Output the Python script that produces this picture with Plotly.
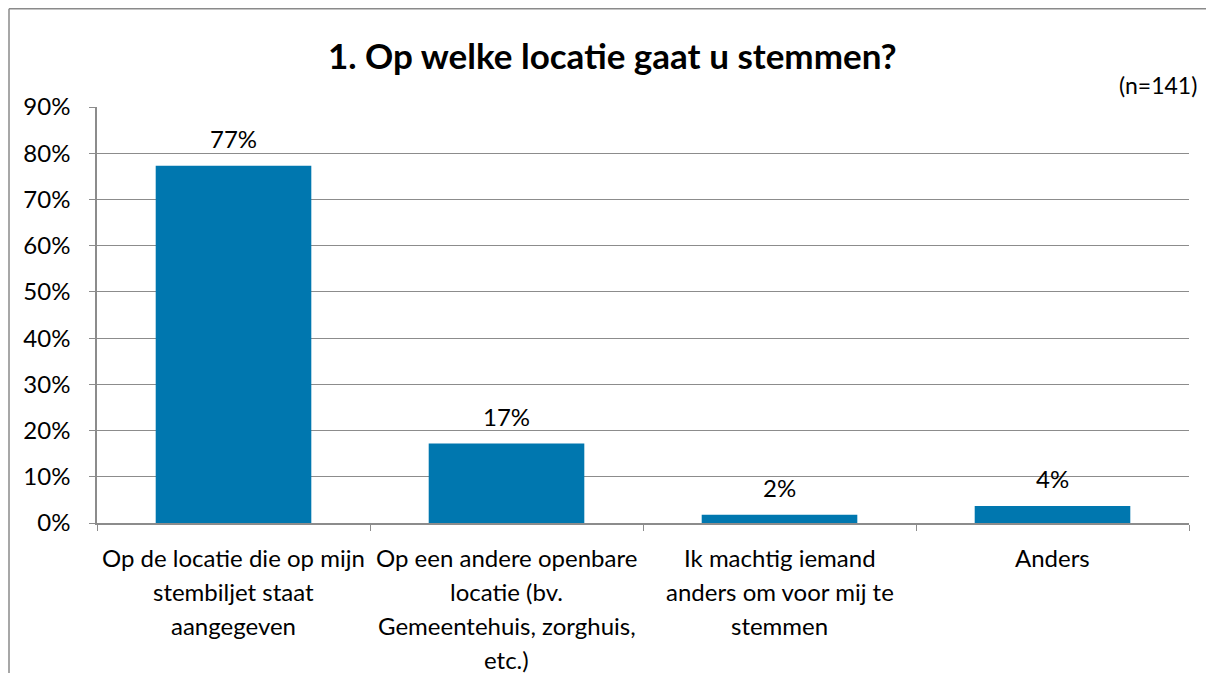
import plotly.graph_objects as go

categories = [
    "Op de locatie die op mijn\nstembiljet staat\naangegeven",
    "Op een andere openbare\nlocatie (bv.\nGemeentehuis, zorghuis,\netc.)",
    "Ik machtig iemand\nanders om voor mij te\nstemmen",
    "Anders",
]
values = [0.773, 0.172, 0.018, 0.037]
labels = ["77%", "17%", "2%", "4%"]
y_ticks = [0, 0.1, 0.2, 0.3, 0.4, 0.5, 0.6, 0.7, 0.8, 0.9]
y_ticklabels = ["0%", "10%", "20%", "30%", "40%", "50%", "60%", "70%", "80%", "90%"]
title = "1. Op welke locatie gaat u stemmen?"
note = "(n=141)"

FONT = "Lato"
OFF = 8  # default page body margin
W, H = 1214 - 2 * OFF, 681 - 2 * OFF
L, R, T, B = 97 - OFF, 1189 - OFF, 107 - OFF, 523 - OFF
pw, ph = R - L, B - T


def px(xpage):
    return (xpage - OFF - L) / pw


def py(ypage):
    return (B - (ypage - OFF)) / ph


cat_keys = [c.replace("\n", " ") for c in categories]

fig = go.Figure(go.Bar(
    x=cat_keys, y=values,
    marker=dict(color="#0077AF", line=dict(width=0)),
    cliponaxis=False, width=0.57, hoverinfo="skip",
))

annotations = []
for key, v, lab in zip(cat_keys, values, labels):
    annotations.append(dict(
        x=key, xref="x", y=v, yref="y", yshift=27,
        text=lab, showarrow=False, xanchor="center", yanchor="middle",
        font=dict(family=FONT, size=24, color="#000"),
    ))

for key, cat in zip(cat_keys, categories):
    for j, line in enumerate(cat.split("\n")):
        ypage = 557 + j * 34.3
        annotations.append(dict(
            x=key, xref="x", y=py(ypage), yref="paper",
            text=line, showarrow=False, xanchor="center", yanchor="middle",
            font=dict(family=FONT, size=24, color="#000"),
        ))

annotations.append(dict(
    x=px(612), xref="paper", y=py(55), yref="paper",
    text="<b>" + title + "</b>", showarrow=False, xanchor="center", yanchor="middle",
    font=dict(family=FONT, size=35, color="#000"),
))
annotations.append(dict(
    x=px(1199), xref="paper", y=py(85), yref="paper",
    text=note, showarrow=False, xanchor="right", yanchor="middle",
    font=dict(family=FONT, size=23, color="#000"),
))

border = dict(color="#8a8a8a", width=1.5)
top_y = (B - 0.75) / ph
fig.update_layout(
    width=W, height=H,
    margin=dict(l=L, r=W - R, t=T, b=H - B, pad=0),
    paper_bgcolor="white", plot_bgcolor="white",
    showlegend=False,
    annotations=annotations,
    shapes=[
        dict(type="line", xref="paper", yref="paper",
             x0=px(9), x1=px(1300), y0=top_y, y1=top_y, line=border, layer="below"),
        dict(type="line", xref="paper", yref="paper",
             x0=px(9), x1=px(9), y0=top_y, y1=py(760), line=border, layer="below"),
    ],
    xaxis=dict(
        showticklabels=False, tickson="boundaries", ticks="outside", ticklen=6,
        tickcolor="#8c8c8c", showline=True, linecolor="#8c8c8c", linewidth=1.5,
        showgrid=False, zeroline=False,
    ),
    yaxis=dict(
        range=[0, 0.9], tickvals=y_ticks, ticktext=y_ticklabels,
        ticks="outside", ticklen=6, tickcolor="#8c8c8c",
        showline=True, linecolor="#8c8c8c", linewidth=1.5,
        showgrid=True, gridcolor="#8c8c8c", gridwidth=1, zeroline=False,
        tickfont=dict(family=FONT, size=24, color="#000"),
        ticklabelstandoff=14,
    ),
)

fig.write_html("out.html")
